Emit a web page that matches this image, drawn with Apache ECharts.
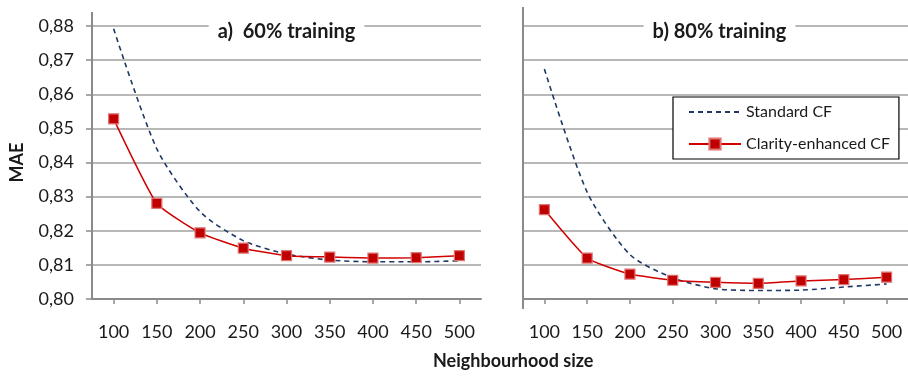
<!DOCTYPE html>
<html>
<head>
<meta charset="utf-8">
<script src="https://cdn.jsdelivr.net/npm/echarts@6/dist/echarts.min.js"></script>
<style>
html,body{margin:0;padding:0;background:#fff;}
#chart{width:908px;height:376px;}
</style>
</head>
<body>
<div id="chart"></div>
<script>
// ---- data ----
var categories = ['100','150','200','250','300','350','400','450','500'];
var standardA = [0.8792, 0.8440, 0.8256, 0.8171, 0.8132, 0.8114, 0.8109, 0.8109, 0.8112];
var clarityA  = [0.8528, 0.8280, 0.8194, 0.8149, 0.8127, 0.8123, 0.8120, 0.8121, 0.8127];
var standardB = [0.8674, 0.8313, 0.8130, 0.8062, 0.8030, 0.8025, 0.8026, 0.8035, 0.8044];
var clarityB  = [0.8262, 0.8120, 0.8073, 0.8055, 0.8049, 0.8046, 0.8053, 0.8057, 0.8064];
var panelTitles = ['a)  60% training', 'b) 80% training'];
var seriesNames = ['Standard CF', 'Clarity-enhanced CF'];
var yMin = 0.80, yMax = 0.88, yStep = 0.01;

// ---- layout ----
var FONT = 'Lato, "Open Sans", sans-serif';
var TXT = '#1a1a1a';
var GRID_TOP = 26, GRID_BOTTOM = 77, GRID_W = 389;
var LEFT_A = 92, LEFT_B = 523;
var gridColor = '#a0a0a0', axisColor = '#8a8a8a';

function xAxisFor(i){
  return {
    type:'category', gridIndex:i, data:categories, boundaryGap:true,
    axisLine:{show:true, lineStyle:{color:axisColor, width:2}},
    axisTick:{show:true, alignWithLabel:true, length:5, lineStyle:{color:axisColor, width:1.5}},
    axisLabel:{color:TXT, fontFamily:FONT, fontSize:18, margin:24},
    splitLine:{show:false}
  };
}
function yAxisFor(i){
  return {
    type:'value', gridIndex:i, min:yMin, max:yMax, interval:yStep,
    name: i===0 ? 'MAE' : '',
    nameLocation:'middle', nameRotate:90, nameGap:66,
    nameTextStyle:{color:TXT, fontFamily:FONT, fontSize:18, fontWeight:'bold'},
    axisLine:{show:false},
    axisTick:{show:i===0, length:6, lineStyle:{color:axisColor, width:1.5}},
    axisLabel:{show:i===0, color:TXT, fontFamily:FONT, fontSize:18, margin:18,
      formatter:function(v){return v.toFixed(2).replace('.', ',');}},
    splitLine:{show:true, lineStyle:{color:gridColor, width:1.5}}
  };
}
function stdSeries(i, data){
  return {
    name:seriesNames[0], type:'line', xAxisIndex:i, yAxisIndex:i, data:data,
    symbol:'none', smooth:0.25, z:2,
    lineStyle:{color:'#1F3864', width:1.6, type:[5,4]},
    itemStyle:{color:'#1F3864'}
  };
}
function clarSeries(i, data){
  return {
    name:seriesNames[1], type:'line', xAxisIndex:i, yAxisIndex:i, data:data,
    symbol:'rect', symbolSize:10, smooth:0.15, z:3,
    lineStyle:{color:'#D00000', width:1.5},
    itemStyle:{color:'#C00000', borderColor:'#E07575', borderWidth:1.2}
  };
}

var chart = echarts.init(document.getElementById('chart'), null, {renderer:'canvas'});
var option = {
  animation:false,
  backgroundColor:'#fff',
  grid:[
    {left:LEFT_A, top:GRID_TOP, width:GRID_W, bottom:GRID_BOTTOM},
    {left:LEFT_B, top:GRID_TOP, width:GRID_W, bottom:GRID_BOTTOM}
  ],
  xAxis:[xAxisFor(0), xAxisFor(1)],
  yAxis:[yAxisFor(0), yAxisFor(1)],
  title:[
    {text:panelTitles[0], left:LEFT_A + GRID_W/2 - 9, top:20, textAlign:'center',
     padding:[2,9], backgroundColor:'#fff',
     textStyle:{color:TXT, fontFamily:FONT, fontSize:20, fontWeight:'bold'}},
    {text:panelTitles[1], left:LEFT_B + GRID_W/2 - 9 + 2, top:20, textAlign:'center',
     padding:[2,9], backgroundColor:'#fff',
     textStyle:{color:TXT, fontFamily:FONT, fontSize:20, fontWeight:'bold'}},
    {text:'Neighbourhood size', left:433, top:352, padding:0,
     textStyle:{color:TXT, fontFamily:FONT, fontSize:18, fontWeight:'bold'}}
  ],
  legend:{
    data:[
      {name:seriesNames[0], itemStyle:{color:'rgba(0,0,0,0)', borderColor:'rgba(0,0,0,0)', borderWidth:0, opacity:0}},
      {name:seriesNames[1]}
    ],
    orient:'vertical', left:673, top:97,
    padding:[7,9,7,15], itemGap:16, itemWidth:52, itemHeight:14,
    borderColor:'#000', borderWidth:1.2, backgroundColor:'#fff',
    textStyle:{color:TXT, fontFamily:FONT, fontSize:16}
  },
  graphic:[
    {type:'line', z:5, shape:{x1:LEFT_A, y1:12, x2:LEFT_A, y2:376-GRID_BOTTOM}, style:{stroke:axisColor, lineWidth:2}},
    {type:'line', z:5, shape:{x1:LEFT_B, y1:7, x2:LEFT_B, y2:376-GRID_BOTTOM+10}, style:{stroke:axisColor, lineWidth:2}}
  ],
  series:[
    stdSeries(0, standardA), clarSeries(0, clarityA),
    stdSeries(1, standardB), clarSeries(1, clarityB)
  ]
};
chart.setOption(option);
</script>
</body>
</html>
